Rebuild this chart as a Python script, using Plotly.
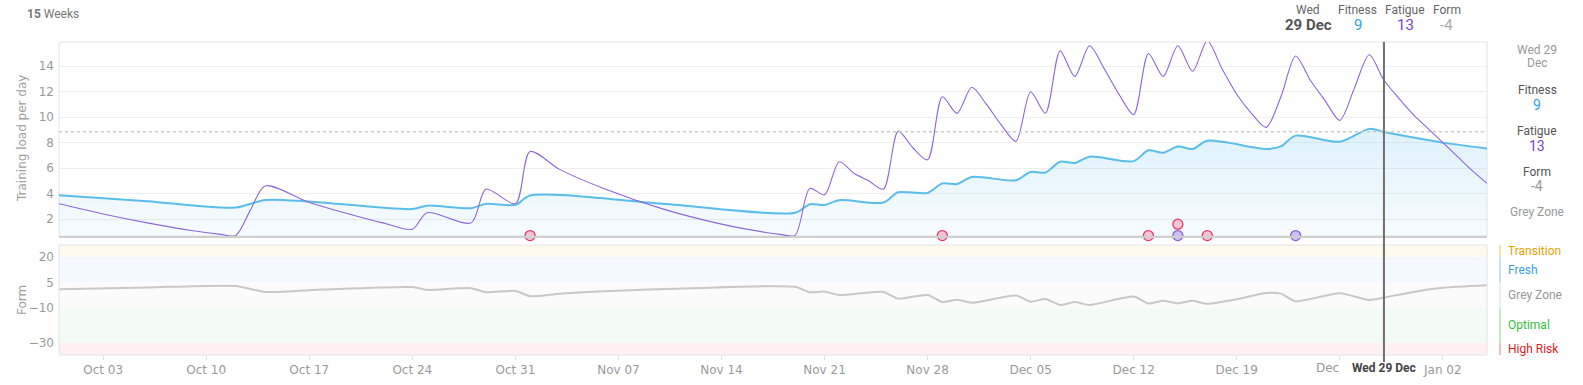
import plotly.graph_objects as go

# ---------------- data ----------------
fitness_dates = ["2021-09-30", "2021-10-06", "2021-10-12", "2021-10-14", "2021-10-17", "2021-10-24",
                 "2021-10-25", "2021-10-28", "2021-10-29", "2021-10-31", "2021-11-01", "2021-11-10",
                 "2021-11-19", "2021-11-20", "2021-11-21", "2021-11-22", "2021-11-25", "2021-11-26",
                 "2021-11-28", "2021-11-29", "2021-11-30", "2021-12-01", "2021-12-04", "2021-12-05",
                 "2021-12-06", "2021-12-07", "2021-12-08", "2021-12-09", "2021-12-12", "2021-12-13",
                 "2021-12-14", "2021-12-15", "2021-12-16", "2021-12-17", "2021-12-21", "2021-12-22",
                 "2021-12-23", "2021-12-26", "2021-12-28", "2021-12-29", "2021-12-31", "2022-01-02",
                 "2022-01-05"]
fitness_values = [3.87, 3.4, 2.9, 3.5, 3.38, 2.78,
                  3.05, 2.85, 3.2, 3.12, 3.85, 3.2,
                  2.5, 3.16, 3.1, 3.48, 3.3, 4.1,
                  4.05, 4.8, 4.75, 5.3, 5.05, 5.7,
                  5.65, 6.5, 6.4, 6.9, 6.55, 7.4,
                  7.2, 7.7, 7.5, 8.15, 7.5, 7.7,
                  8.55, 8.07, 9.08, 8.84, 8.4, 8.0,
                  7.54]

fatigue_dates = ["2021-09-30", "2021-10-03", "2021-10-06", "2021-10-09", "2021-10-11", "2021-10-12",
                 "2021-10-13", "2021-10-14",
                 "2021-10-17", "2021-10-20", "2021-10-22", "2021-10-24", "2021-10-25", "2021-10-28",
                 "2021-10-29", "2021-10-31", "2021-11-01", "2021-11-03", "2021-11-06", "2021-11-10",
                 "2021-11-14", "2021-11-17", "2021-11-18", "2021-11-19", "2021-11-20", "2021-11-21",
                 "2021-11-22",
                 "2021-11-23", "2021-11-24", "2021-11-25", "2021-11-26", "2021-11-27", "2021-11-28",
                 "2021-11-29", "2021-11-30", "2021-12-01", "2021-12-02", "2021-12-03", "2021-12-04",
                 "2021-12-05", "2021-12-06", "2021-12-07", "2021-12-08", "2021-12-09", "2021-12-10",
                 "2021-12-11", "2021-12-12", "2021-12-13", "2021-12-14", "2021-12-15", "2021-12-16",
                 "2021-12-17", "2021-12-18", "2021-12-19", "2021-12-20", "2021-12-21", "2021-12-22",
                 "2021-12-23", "2021-12-24", "2021-12-25", "2021-12-26", "2021-12-27", "2021-12-28",
                 "2021-12-29", "2021-12-30", "2021-12-31", "2022-01-01", "2022-01-02", "2022-01-03",
                 "2022-01-04", "2022-01-05"]
fatigue_values = [3.2, 2.4, 1.7, 1.1, 0.8, 0.7,
                  2.7, 4.6,
                  3.3, 2.3, 1.7, 1.2, 2.5, 1.7,
                  4.35, 3.2, 7.3, 5.9, 4.4, 2.8,
                  1.6, 0.95, 0.8, 0.72, 4.4, 3.9,
                  6.5,
                  5.6, 5.0, 4.35, 8.9, 7.6, 6.65,
                  11.6, 10.3, 12.35, 11.0, 9.4, 8.1,
                  12.0, 10.3, 15.2, 13.2, 15.6, 13.8,
                  11.8, 10.2, 15.0, 13.2, 15.6, 13.6,
                  16.0, 13.8, 11.8, 10.3, 9.2, 11.6,
                  14.8, 12.9, 11.3, 9.75, 12.3, 14.9,
                  12.9, 11.5, 10.2, 9.1, 8.0, 6.9,
                  5.8, 4.8]

form_dates = ["2021-09-30", "2021-10-06", "2021-10-12", "2021-10-14", "2021-10-18", "2021-10-24",
              "2021-10-25", "2021-10-28", "2021-10-29", "2021-10-31", "2021-11-01", "2021-11-03",
              "2021-11-06", "2021-11-12", "2021-11-19", "2021-11-20", "2021-11-21", "2021-11-22",
              "2021-11-25", "2021-11-26", "2021-11-28", "2021-11-29", "2021-11-30", "2021-12-01",
              "2021-12-04", "2021-12-05", "2021-12-06", "2021-12-07", "2021-12-08", "2021-12-09",
              "2021-12-12", "2021-12-13", "2021-12-14", "2021-12-15", "2021-12-16", "2021-12-17",
              "2021-12-19", "2021-12-21", "2021-12-22", "2021-12-23", "2021-12-26", "2021-12-28",
              "2021-12-29", "2021-12-31", "2022-01-02", "2022-01-05"]
form_values = [1.1, 2.1, 3.0, -0.5, 0.9, 2.3,
               0.7, 1.7, -0.7, 0.1, -3.0, -1.5,
               -0.1, 1.7, 2.5, -0.7, -0.3, -2.3,
               -0.5, -4.4, -2.3, -6.4, -5.0, -6.8,
               -2.6, -6.2, -4.6, -8.1, -6.4, -8.1,
               -3.2, -7.2, -5.6, -7.2, -5.6, -7.4,
               -4.8, -1.1, -1.5, -6.0, -1.3, -5.2,
               -3.8, -0.5, 1.9, 3.4]

event_pink_dates = ["2021-11-01", "2021-11-29", "2021-12-13", "2021-12-15", "2021-12-17"]
event_pink_levels = [0.7, 0.7, 0.7, 1.6, 0.7]
event_purple_dates = ["2021-12-15", "2021-12-23"]
event_purple_levels = [0.7, 0.7]

load_ticks = [2, 4, 6, 8, 10, 12, 14]
form_ticks = [20, 5, -10, -30]
x_tick_dates = ["2021-10-03", "2021-10-10", "2021-10-17", "2021-10-24", "2021-10-31", "2021-11-07",
                "2021-11-14", "2021-11-21", "2021-11-28", "2021-12-05", "2021-12-12", "2021-12-19",
                "2021-12-26", "2022-01-02"]
x_tick_labels = ["Oct 03", "Oct 10", "Oct 17", "Oct 24", "Oct 31", "Nov 07", "Nov 14", "Nov 21",
                 "Nov 28", "Dec 05", "Dec 12", "Dec 19", "Dec 26", "Jan 02"]
# the tick label that the selected-date label truncates, and what is left visible of it
truncated_tick = "Dec 26"
truncated_text = "Dec"

zone_names = ["Transition", "Fresh", "Grey Zone", "Optimal", "High Risk"]
zone_low = [20, 5, -10, -30, -37.2]
zone_high = [26.8, 20, 5, -10, -30]
zone_fill = ["#fffaee", "#f3f9fe", "#fbfbfb", "#f4fbf4", "#fcf0f0"]
zone_bar = ["#f7e6a8", "#c4e2f6", "#eeeeee", "#bfeec0", "#f5bcbc"]
zone_text = ["#e3a300", "#3aa0e2", "#999999", "#33c33c", "#e31b1b"]

selected_date = "2021-12-29"
selected_label = "Wed 29 Dec"
sel_fitness, sel_fatigue, sel_form = 9, 13, -4
current_zone = "Grey Zone"
weeks = 15
ramp_level = 8.85

# ---------------- geometry ----------------
W, H = 1583, 385
L, R, T, B = 59, 1487, 42, 355
TOP_BOTTOM, LOW_TOP = 236, 245


def px(x):
    return (x - L) / (R - L)


def py(y):
    return (B - y) / (B - T)


FIT_C = "#5bbde9"
FAT_C = "#8e66da"
GREY_T = "#999999"
TICKFONT = dict(family="DejaVu Sans", size=12, color="#9a9a9a")

fig = go.Figure()

fig.add_trace(go.Scatter(
    x=fitness_dates, y=fitness_values, mode="lines", line=dict(color=FIT_C, width=2, shape="spline", smoothing=0.8),
    fill="tozeroy",
    fillgradient=dict(type="vertical", start=0.6, stop=9.1,
                      colorscale=[[0, "rgba(91,187,232,0.05)"], [1, "rgba(91,187,232,0.2)"]]),
    xaxis="x", yaxis="y", hoverinfo="skip", showlegend=False))
fig.add_trace(go.Scatter(
    x=fatigue_dates, y=fatigue_values, mode="lines", line=dict(color=FAT_C, width=1.1, shape="spline", smoothing=0.8),
    xaxis="x", yaxis="y", hoverinfo="skip", showlegend=False))
fig.add_trace(go.Scatter(
    x=event_pink_dates, y=event_pink_levels, mode="markers",
    marker=dict(size=10, color="#f6c5d3", line=dict(color="#e5396c", width=1.3)),
    cliponaxis=False, xaxis="x", yaxis="y", hoverinfo="skip", showlegend=False))
fig.add_trace(go.Scatter(
    x=event_purple_dates, y=event_purple_levels, mode="markers",
    marker=dict(size=10, color="#cbc0f2", line=dict(color="#8a63d9", width=1.3)),
    cliponaxis=False, xaxis="x", yaxis="y", hoverinfo="skip", showlegend=False))
fig.add_trace(go.Scatter(
    x=form_dates, y=form_values, mode="lines", line=dict(color="#c8c8c8", width=2, shape="spline", smoothing=0.6),
    xaxis="x2", yaxis="y2", hoverinfo="skip", showlegend=False))

shapes = []
for lo, hi, fc in zip(zone_low, zone_high, zone_fill):
    shapes.append(dict(type="rect", xref="x2 domain", yref="y2", x0=0, x1=1, y0=lo, y1=hi,
                       fillcolor=fc, line=dict(width=0), layer="below"))
for lo, hi, bc in zip(zone_low, zone_high, zone_bar):
    shapes.append(dict(type="rect", xref="paper", yref="y2", x0=px(1499), x1=px(1501), y0=lo, y1=hi,
                       fillcolor=bc, line=dict(width=0)))
shapes.append(dict(type="rect", xref="paper", yref="paper", x0=0, x1=1, y0=py(TOP_BOTTOM), y1=1,
                   line=dict(color="#e4e4e4", width=1), layer="below"))
shapes.append(dict(type="rect", xref="paper", yref="paper", x0=0, x1=1, y0=0, y1=py(LOW_TOP),
                   line=dict(color="#e4e4e4", width=1), layer="above"))
shapes.append(dict(type="line", xref="x domain", yref="y", x0=0, x1=1, y0=ramp_level, y1=ramp_level,
                   line=dict(color="#cccccc", width=1.5, dash="dot")))
shapes.append(dict(type="line", xref="x", yref="paper", x0=selected_date, x1=selected_date,
                   y0=-0.022, y1=1, line=dict(color="#6f6f6f", width=2)))

ann = []


def text(x, y, s, color, size=12, family="Roboto", xanchor="center", **kw):
    ann.append(dict(xref="paper", yref="paper", x=px(x), y=py(y), text=s, showarrow=False,
                    xanchor=xanchor, yanchor="middle", font=dict(family=family, size=size, color=color), **kw))


# header
text(25, 14, f"<b>{weeks}</b> Weeks", "#777777", size=12, xanchor="left")
text(1308, 10, "Wed", "#666666")
text(1308, 25, "<b>29 Dec</b>", "#555555", size=15)
text(1357.5, 10, "Fitness", "#666666")
text(1357.5, 25, str(sel_fitness), "#2ea3e3", size=15)
text(1405, 10, "Fatigue", "#666666")
text(1405, 25, str(sel_fatigue), "#7a3fd3", size=15)
text(1446.5, 10, "Form", "#666666")
text(1446.5, 25, str(sel_form), "#aaaaaa", size=15)

# right panel
text(1537, 50.5, "Wed 29", GREY_T)
text(1537, 62.5, "Dec", GREY_T)
text(1537, 90, "Fitness", "#555555")
text(1537, 104.5, str(sel_fitness), "#2ea3e3", size=14)
text(1537, 130.5, "Fatigue", "#555555")
text(1537, 145.5, str(sel_fatigue), "#7a3fd3", size=14)
text(1537, 171.5, "Form", "#555555")
text(1537, 186.5, str(sel_form), GREY_T, size=14)
text(1537, 212, current_zone, GREY_T)

for name, lo, hi, c in zip(zone_names, zone_low, zone_high, zone_text):
    ann.append(dict(xref="paper", yref="y2", x=px(1506), y=(lo + hi) / 2, text=name, showarrow=False,
                    xanchor="left", yanchor="middle", font=dict(family="Roboto", size=12, color=c)))

text(22, 139, "Training load per day", "#a0a0a0", family="DejaVu Sans", textangle=-90)
text(22, 300, "Form", "#a0a0a0", family="DejaVu Sans", textangle=-90)

# selected-date label on the x axis and the truncated neighbouring tick label
ann.append(dict(xref="x2", yref="paper", x=selected_date, y=py(368), text=f"<b>{selected_label}</b>",
                showarrow=False, xanchor="center", yanchor="middle",
                font=dict(family="Roboto", size=12, color="#444444")))
ann.append(dict(xref="x2", yref="paper", x=truncated_tick.replace("Dec ", "2021-12-"), y=py(368),
                text=truncated_text, showarrow=False, xanchor="right", yanchor="middle", xshift=1,
                font=TICKFONT))

shown_tick_labels = ["" if lab == truncated_tick else lab for lab in x_tick_labels]

fig.update_layout(
    width=W, height=H,
    margin=dict(l=L, r=W - R, t=T, b=H - B, pad=0, autoexpand=False),
    paper_bgcolor="#ffffff", plot_bgcolor="rgba(0,0,0,0)",
    showlegend=False,
    xaxis=dict(domain=[0, 1], anchor="y", range=["2021-09-30", "2022-01-05"], type="date",
               showticklabels=False, showgrid=False, zeroline=False, ticks="", automargin=False,
               showline=True, linecolor="#cfcfcf", linewidth=2),
    yaxis=dict(domain=[py(TOP_BOTTOM), 1], anchor="x", range=[0.67, 15.9], tickvals=load_ticks,
               showgrid=True, gridcolor="#efefef", gridwidth=1, zeroline=False, showline=False,
               tickfont=TICKFONT, ticks="", ticklabelstandoff=4, automargin=False),
    xaxis2=dict(domain=[0, 1], anchor="y2", matches="x", type="date", tickvals=x_tick_dates,
                ticktext=shown_tick_labels, ticks="outside", ticklen=4, tickcolor="#e2e2e2",
                showgrid=False, zeroline=False, showline=False, tickfont=TICKFONT, automargin=False),
    yaxis2=dict(domain=[0, py(LOW_TOP)], anchor="x2", range=[-37.2, 26.8], tickvals=form_ticks,
                showgrid=False, zeroline=False, showline=False, tickfont=TICKFONT, ticks="",
                ticklabelstandoff=4, automargin=False),
    shapes=shapes,
    annotations=ann,
)

fig.write_html("out.html", config={"displayModeBar": False},
               post_script="document.body.style.margin='0';document.body.style.overflow='hidden';")
